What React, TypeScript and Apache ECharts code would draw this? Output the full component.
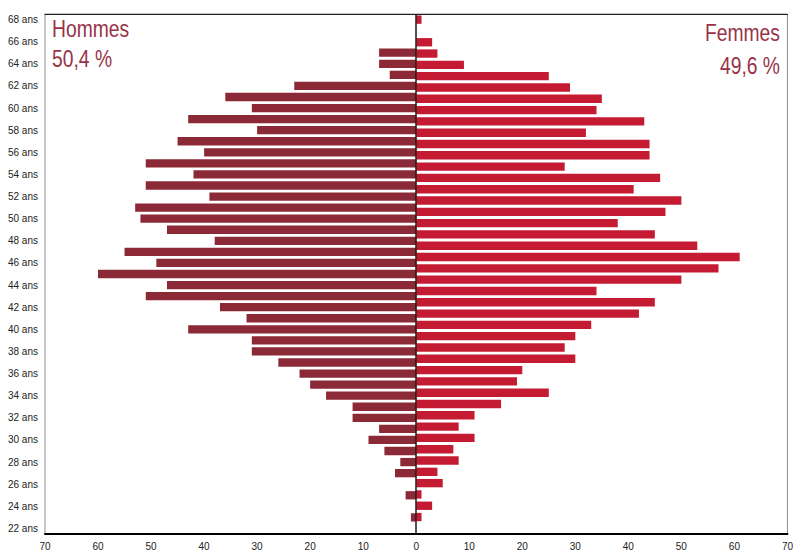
import React, { useEffect, useRef } from "react";
import * as echarts from "echarts";

// Age categories (bottom to top)
const ages = [
  22, 23, 24, 25, 26, 27, 28, 29, 30, 31, 32, 33, 34, 35, 36, 37, 38, 39, 40, 41, 42, 43, 44,
  45, 46, 47, 48, 49, 50, 51, 52, 53, 54, 55, 56, 57, 58, 59, 60, 61, 62, 63, 64, 65, 66, 67, 68,
];

// Hommes, ages 22 -> 68
const menValues = [
  0, 1, 0, 2, 0, 4, 3, 6, 9, 7, 12, 12, 17, 20, 22, 26, 31, 31, 43, 32, 37, 51, 47, 60, 49, 55,
  38, 47, 52, 53, 39, 51, 42, 51, 40, 45, 30, 43, 31, 36, 23, 5, 7, 7, 0, 0, 0,
];

// Femmes: drawn on their own (hidden) category scale of 46 slots, bottom -> top
const womenSlots = [
  "23", "24", "25", "26", "27", "28", "29", "30", "31", "32", "33", "34", "35", "36", "37", "38",
  "39", "40", "41", "42", "43", "44", "45", "46", "47", "48", "49", "50", "51", "52", "53", "54",
  "55", "56", "57", "58", "59", "60", "61", "62", "63", "64", "65", "66", "67", "68",
];
const womenValues = [
  0, 1, 3, 1, 5, 4, 8, 7, 11, 8, 11, 16, 25, 19, 20, 30, 28, 30, 33, 42, 45, 34, 50, 57, 61, 53,
  45, 38, 47, 50, 41, 46, 28, 44, 44, 32, 43, 34, 35, 29, 25, 9, 4, 3, 0, 1,
];

const menLabel = "Hommes";
const menShare = "50,4 %";
const womenLabel = "Femmes";
const womenShare = "49,6 %";

const MEN_COLOR = "#8b2a36";
const WOMEN_COLOR = "#c41b33";
const TEXT_COLOR = "#983347";
const FONT = "'Liberation Sans', Arial, sans-serif";

export default function App() {
  const ref = useRef<HTMLDivElement>(null);

  useEffect(() => {
    if (!ref.current) return;
    const chart = echarts.init(ref.current, undefined, { renderer: "svg" });

    const titleStyle = (text: string, align: "left" | "right") => ({
      text,
      fill: TEXT_COLOR,
      font: `23px ${FONT}`,
      align,
      verticalAlign: "middle",
    });

    chart.setOption({
      animation: false,
      backgroundColor: "#fff",
      grid: {
        left: 45,
        right: 5,
        top: 14,
        bottom: 15,
        show: true,
        borderColor: "#8c8c8c",
        borderWidth: 1,
        backgroundColor: "transparent",
      },
      xAxis: [
        {
          type: "value",
          min: -70,
          max: 70,
          interval: 10,
          position: "bottom",
          axisLine: { show: true, onZero: false, lineStyle: { color: "#000", width: 2 } },
          axisTick: { show: false },
          splitLine: { show: false },
          axisLabel: {
            color: "#222",
            fontSize: 10,
            fontFamily: FONT,
            margin: 7,
            formatter: (v: number) => String(Math.abs(v)),
          },
        },
        {
          type: "value",
          min: -70,
          max: 70,
          interval: 10,
          position: "top",
          axisLine: { show: true, onZero: false, lineStyle: { color: "#222", width: 1 } },
          axisTick: { show: false },
          splitLine: { show: false },
          axisLabel: { show: false },
        },
      ],
      yAxis: [
        {
          type: "category",
          data: ages,
          axisLine: { show: false },
          axisTick: { show: false },
          axisLabel: {
            interval: 1,
            color: "#222",
            fontSize: 10,
            fontFamily: FONT,
            margin: 7,
            formatter: (v: string) => `${v} ans`,
          },
        },
        {
          type: "category",
          data: womenSlots,
          show: false,
        },
      ],
      series: [
        {
          name: menLabel,
          type: "bar",
          xAxisIndex: 0,
          yAxisIndex: 0,
          data: menValues.map((v) => -v),
          barWidth: "75%",
          itemStyle: { color: MEN_COLOR },
        },
        {
          name: womenLabel,
          type: "bar",
          xAxisIndex: 0,
          yAxisIndex: 1,
          data: womenValues,
          barWidth: "74%",
          itemStyle: { color: WOMEN_COLOR },
          markLine: {
            silent: true,
            symbol: ["none", "none"],
            label: { show: false },
            lineStyle: { color: "#1a1a1a", width: 1.5, type: "solid" },
            data: [{ xAxis: 0 }],
          },
        },
      ],
      graphic: [
        { type: "text", x: 52, y: 28.5, scaleX: 0.84, style: titleStyle(menLabel, "left") },
        { type: "text", x: 52, y: 59, scaleX: 0.84, style: titleStyle(menShare, "left") },
        { type: "text", x: 780, y: 32.5, scaleX: 0.84, style: titleStyle(womenLabel, "right") },
        { type: "text", x: 780, y: 65.5, scaleX: 0.84, style: titleStyle(womenShare, "right") },
      ],
    });

    return () => chart.dispose();
  }, []);

  return <div ref={ref} style={{ width: 796, height: 551, position: "absolute", left: 0, top: 0 }} />;
}
